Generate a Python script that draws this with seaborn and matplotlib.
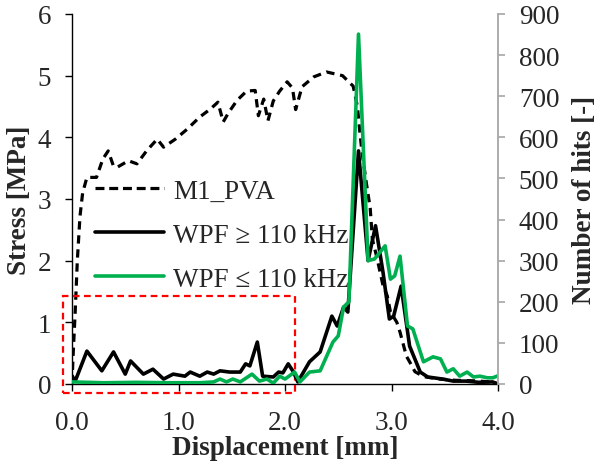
import numpy as np
import matplotlib
matplotlib.use("Agg")
import matplotlib.pyplot as plt
import seaborn as sns
from matplotlib.patches import Rectangle
from matplotlib.lines import Line2D

# stress-displacement curve (left axis)
disp_stress = [0.00, 0.01, 0.03, 0.05, 0.075, 0.10, 0.14, 0.23, 0.29, 0.34, 0.39, 0.43, 0.53,
               0.61, 0.70, 0.80, 0.86, 0.97, 1.08, 1.20, 1.30, 1.37, 1.42, 1.47, 1.55, 1.64,
               1.72, 1.75, 1.80, 1.84, 1.89, 1.95, 2.02, 2.07, 2.10, 2.16, 2.27, 2.39, 2.54,
               2.64, 2.68, 2.70, 2.72, 2.76, 2.80, 2.82, 2.86, 2.92, 2.96, 2.99, 3.05, 3.08,
               3.14, 3.17, 3.22, 3.30, 3.45, 3.60, 3.80, 3.95, 4.00]
stress = [0.00, 0.45, 1.17, 2.00, 2.72, 3.10, 3.35, 3.35, 3.65, 3.78, 3.53, 3.52, 3.62,
          3.57, 3.78, 3.97, 3.84, 3.97, 4.13, 4.33, 4.46, 4.57, 4.25, 4.40, 4.60, 4.75,
          4.76, 4.35, 4.62, 4.27, 4.59, 4.75, 4.90, 4.80, 4.45, 4.82, 4.98, 5.06, 5.00,
          4.83, 4.50, 4.13, 3.80, 3.30, 2.85, 2.35, 2.07, 1.60, 1.43, 1.17, 1.00, 0.84,
          0.45, 0.36, 0.20, 0.12, 0.08, 0.06, 0.05, 0.03, 0.00]

# AE hits, WPF >= 110 kHz (right axis)
disp_high = [0.00, 0.03, 0.14, 0.28, 0.39, 0.50, 0.55, 0.67, 0.76, 0.86, 0.95, 1.06, 1.11,
             1.20, 1.27, 1.33, 1.39, 1.48, 1.58, 1.63, 1.67, 1.74, 1.79, 1.89, 1.94, 1.98,
             2.03, 2.08, 2.12, 2.23, 2.33, 2.44, 2.49, 2.55, 2.59, 2.69, 2.78, 2.85, 2.92,
             2.98, 3.02, 3.09, 3.17, 3.27, 3.34, 3.48, 3.58, 3.70, 3.82, 3.95, 4.00]
hits_high = [20, 7, 80, 32, 78, 24, 56, 24, 36, 12, 24, 19, 29,
             19, 29, 24, 32, 29, 29, 49, 44, 102, 19, 17, 29, 27,
             49, 29, 5, 54, 78, 165, 141, 187, 175, 567, 300, 385, 272,
             158, 165, 238, 92, 29, 17, 12, 7, 7, 4, 5, 0]

# AE hits, WPF <= 110 kHz (right axis)
disp_low = [0.00, 0.30, 0.60, 0.90, 1.20, 1.33, 1.39, 1.45, 1.51, 1.58, 1.69, 1.76, 1.83,
            1.89, 1.95, 2.00, 2.09, 2.14, 2.23, 2.33, 2.45, 2.50, 2.55, 2.60, 2.69, 2.78,
            2.84, 2.94, 2.99, 3.03, 3.08, 3.15, 3.20, 3.30, 3.39, 3.46, 3.52, 3.58, 3.64,
            3.71, 3.77, 3.83, 3.90, 3.95, 4.00]
hits_low = [5, 3, 4, 3, 3, 5, 12, 5, 12, 5, 24, 7, 12,
            2, 19, 12, 29, 5, 29, 32, 102, 117, 187, 200, 851, 300,
            304, 336, 255, 263, 311, 141, 134, 54, 66, 61, 29, 37, 19,
            29, 17, 19, 15, 15, 20]

sns.set_style("white")
plt.rcParams['font.family'] = ['Liberation Serif', 'DejaVu Serif']
fs = 19.5

fig = plt.figure(figsize=(5.98, 4.64), dpi=100)
ax = fig.add_axes([0.1204, 0.1703, 0.7124, 0.7974])
ax2 = ax.twinx()

sns.lineplot(x=disp_stress, y=stress, ax=ax, color='black', linewidth=2.3,
             linestyle=(0, (2.6, 1.8)), label='M1_PVA', legend=False)
sns.lineplot(x=disp_high, y=hits_high, ax=ax2, color='black', linewidth=2.6,
             label='WPF ≥ 110 kHz', legend=False)
sns.lineplot(x=disp_low, y=hits_low, ax=ax2, color='#00b050', linewidth=2.6,
             label='WPF ≤ 110 kHz', legend=False)

ax.set_xlim(0, 4)
ax.set_ylim(0, 6)
ax2.set_ylim(0, 900)
ax.set_xticks([0, 1, 2, 3, 4])
ax.set_xticklabels(['0.0', '1.0', '2.0', '3.0', '4.0'])
ax.set_yticks(range(0, 7))
ax2.set_yticks(range(0, 901, 100))

for a in (ax, ax2):
    a.spines['top'].set_visible(False)
ax.spines['right'].set_visible(False)
ax2.spines['left'].set_visible(False)
ax2.spines['bottom'].set_visible(False)
ax.spines['left'].set_color('black')
ax.spines['bottom'].set_color('black')
ax.spines['left'].set_linewidth(1.0)
ax.spines['bottom'].set_linewidth(1.0)
ax2.spines['right'].set_color('#a6a6a6')
ax2.spines['right'].set_linewidth(1.3)

ax.tick_params(axis='x', direction='out', length=5, width=1, color='black',
               labelsize=fs, bottom=True, pad=14)
ax.tick_params(axis='y', direction='out', length=5, width=1, color='black',
               labelsize=fs, left=True, pad=10)
ax2.tick_params(axis='y', direction='out', length=5, width=1.2, color='#a6a6a6',
                labelsize=fs, right=True, pad=10)

ax.set_xlabel('Displacement [mm]', fontsize=fs, fontweight='bold', labelpad=0)
ax.set_ylabel('Stress [MPa]', fontsize=fs, fontweight='bold', labelpad=4)
ax2.set_ylabel('Number of hits [-]', fontsize=fs, fontweight='bold', labelpad=9)

# red dashed box marking the early-stage region
box = Rectangle((-0.085, -0.15), 2.175, 1.58, fill=False, edgecolor='#ff0000',
                linewidth=1.6, linestyle=(0, (3, 2)), clip_on=False, zorder=5)
ax.add_patch(box)

handles = [Line2D([], [], color='black', linewidth=2.3, linestyle=(0, (2.8, 1.5))),
           Line2D([], [], color='black', linewidth=2.6),
           Line2D([], [], color='#00b050', linewidth=2.6)]
labels = ['M1_PVA', 'WPF ≥ 110 kHz', 'WPF ≤ 110 kHz']
ax2.legend(handles, labels, loc='upper left', bbox_to_anchor=(0.053, 0.555),
           frameon=False, fontsize=fs, handlelength=2.55, handletextpad=0.35,
           labelspacing=0.7, borderaxespad=0, borderpad=0)

fig.savefig('out.png', dpi=100)
